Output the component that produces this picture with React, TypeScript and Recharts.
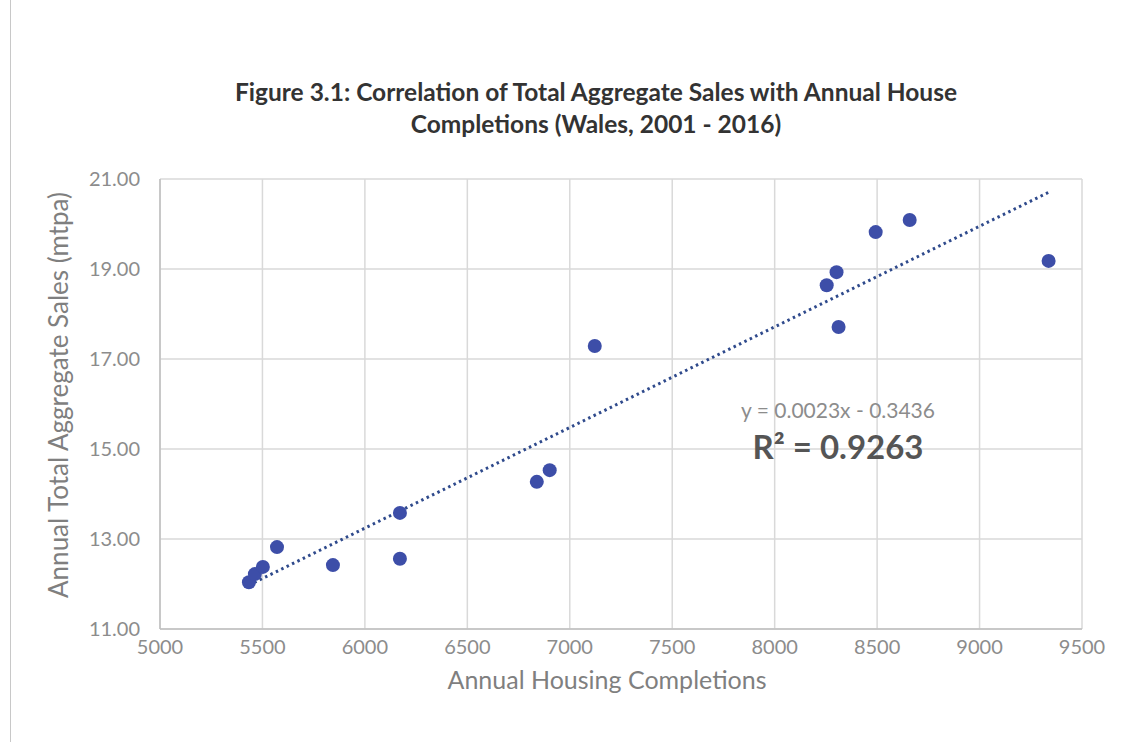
import {
  ScatterChart,
  Scatter,
  XAxis,
  YAxis,
  CartesianGrid,
  ReferenceLine,
} from 'recharts';

// Annual housing completions (x) vs total aggregate sales in mtpa (y), Wales 2001-2016
const completions = [5434, 5463, 5502, 5571, 5844, 6171, 6171, 6839, 6902, 7122, 8254, 8302, 8312, 8493, 8659, 9337];
const sales = [12.04, 12.22, 12.38, 12.82, 12.42, 13.58, 12.56, 14.27, 14.53, 17.29, 18.64, 18.93, 17.71, 19.82, 20.09, 19.18];

const xTicks = [5000, 5500, 6000, 6500, 7000, 7500, 8000, 8500, 9000, 9500];
const yTicks = [11, 13, 15, 17, 19, 21];

const equationText = 'y = 0.0023x - 0.3436';
const r2Text = 'R² = 0.9263';

const FONT = 'Lato, "Open Sans", sans-serif';

// least squares fit, used only to place the dotted trendline
function fit(xs: number[], ys: number[]) {
  const n = xs.length;
  const mx = xs.reduce((a, b) => a + b, 0) / n;
  const my = ys.reduce((a, b) => a + b, 0) / n;
  let sxy = 0;
  let sxx = 0;
  xs.forEach((x, i) => {
    sxy += (x - mx) * (ys[i] - my);
    sxx += (x - mx) * (x - mx);
  });
  const slope = sxy / sxx;
  return { slope, intercept: my - slope * mx };
}

export default function App() {
  const data = completions.map((c, i) => ({ x: c, y: sales[i] }));
  const { slope, intercept } = fit(completions, sales);
  const x0 = Math.min(...completions);
  const x1 = Math.max(...completions);

  return (
    <div
      style={{
        position: 'absolute',
        left: 0,
        top: 0,
        width: 1139,
        height: 742,
        background: '#fff',
        fontFamily: FONT,
        overflow: 'hidden',
      }}
    >
      <div style={{ position: 'absolute', left: 10, top: 0, width: 1, height: 742, background: '#c8c8c8' }} />
      <div
        style={{
          position: 'absolute',
          left: 0,
          width: 1192,
          top: 76,
          textAlign: 'center',
          fontWeight: 700,
          fontSize: 24.5,
          lineHeight: '32px',
          color: '#333',
        }}
      >
        Figure 3.1: Correlation of Total Aggregate Sales with Annual House
        <br />
        Completions (Wales, 2001 - 2016)
      </div>

      <ScatterChart
        width={1139}
        height={742}
        margin={{ top: 179, right: 57, bottom: 0, left: 0 }}
      >
        <CartesianGrid stroke="#d9d9d9" strokeWidth={1.5} />
        <XAxis
          type="number"
          dataKey="x"
          domain={[5000, 9500]}
          ticks={xTicks}
          tickLine={false}
          axisLine={{ stroke: '#bfbfbf', strokeWidth: 1.5 }}
          tick={{ fontSize: 20, fill: '#8c8c8c', fontFamily: FONT }}
          tickMargin={5}
          height={113}
          label={{
            value: 'Annual Housing Completions',
            position: 'insideTop',
            offset: 42,
            dx: -14,
            style: { fontSize: 25, fill: '#7f7f7f', fontFamily: FONT },
          }}
        />
        <YAxis
          type="number"
          dataKey="y"
          domain={[11, 21]}
          ticks={yTicks}
          tickLine={false}
          axisLine={{ stroke: '#bfbfbf', strokeWidth: 1.5 }}
          tick={{ fontSize: 20, fill: '#8c8c8c', fontFamily: FONT }}
          tickFormatter={(v: number) => v.toFixed(2)}
          tickMargin={14}
          width={160}
          label={{
            value: 'Annual Total Aggregate Sales  (mtpa)',
            angle: -90,
            position: 'insideLeft',
            offset: 59,
            dy: -9,
            style: { fontSize: 26, fill: '#7f7f7f', fontFamily: FONT, textAnchor: 'middle' },
          }}
        />
        <ReferenceLine
          segment={[
            { x: x0, y: slope * x0 + intercept },
            { x: x1, y: slope * x1 + intercept },
          ]}
          stroke="#2f4a8c"
          strokeWidth={3}
          strokeDasharray="2.5 3.5"
        />
        <Scatter
          data={data}
          fill="#3d4ea8"
          isAnimationActive={false}
          shape={(p: any) => <circle cx={p.cx} cy={p.cy} r={7} fill="#3d4ea8" />}
        />
      </ScatterChart>

      <div
        style={{
          position: 'absolute',
          left: 718,
          top: 397,
          width: 240,
          textAlign: 'center',
          fontSize: 21,
          color: '#8c8c8c',
          whiteSpace: 'nowrap',
        }}
      >
        {equationText}
      </div>
      <div
        style={{
          position: 'absolute',
          left: 718,
          top: 426,
          width: 240,
          textAlign: 'center',
          fontSize: 33,
          fontWeight: 700,
          color: '#555',
          whiteSpace: 'nowrap',
        }}
      >
        {r2Text}
      </div>
    </div>
  );
}
